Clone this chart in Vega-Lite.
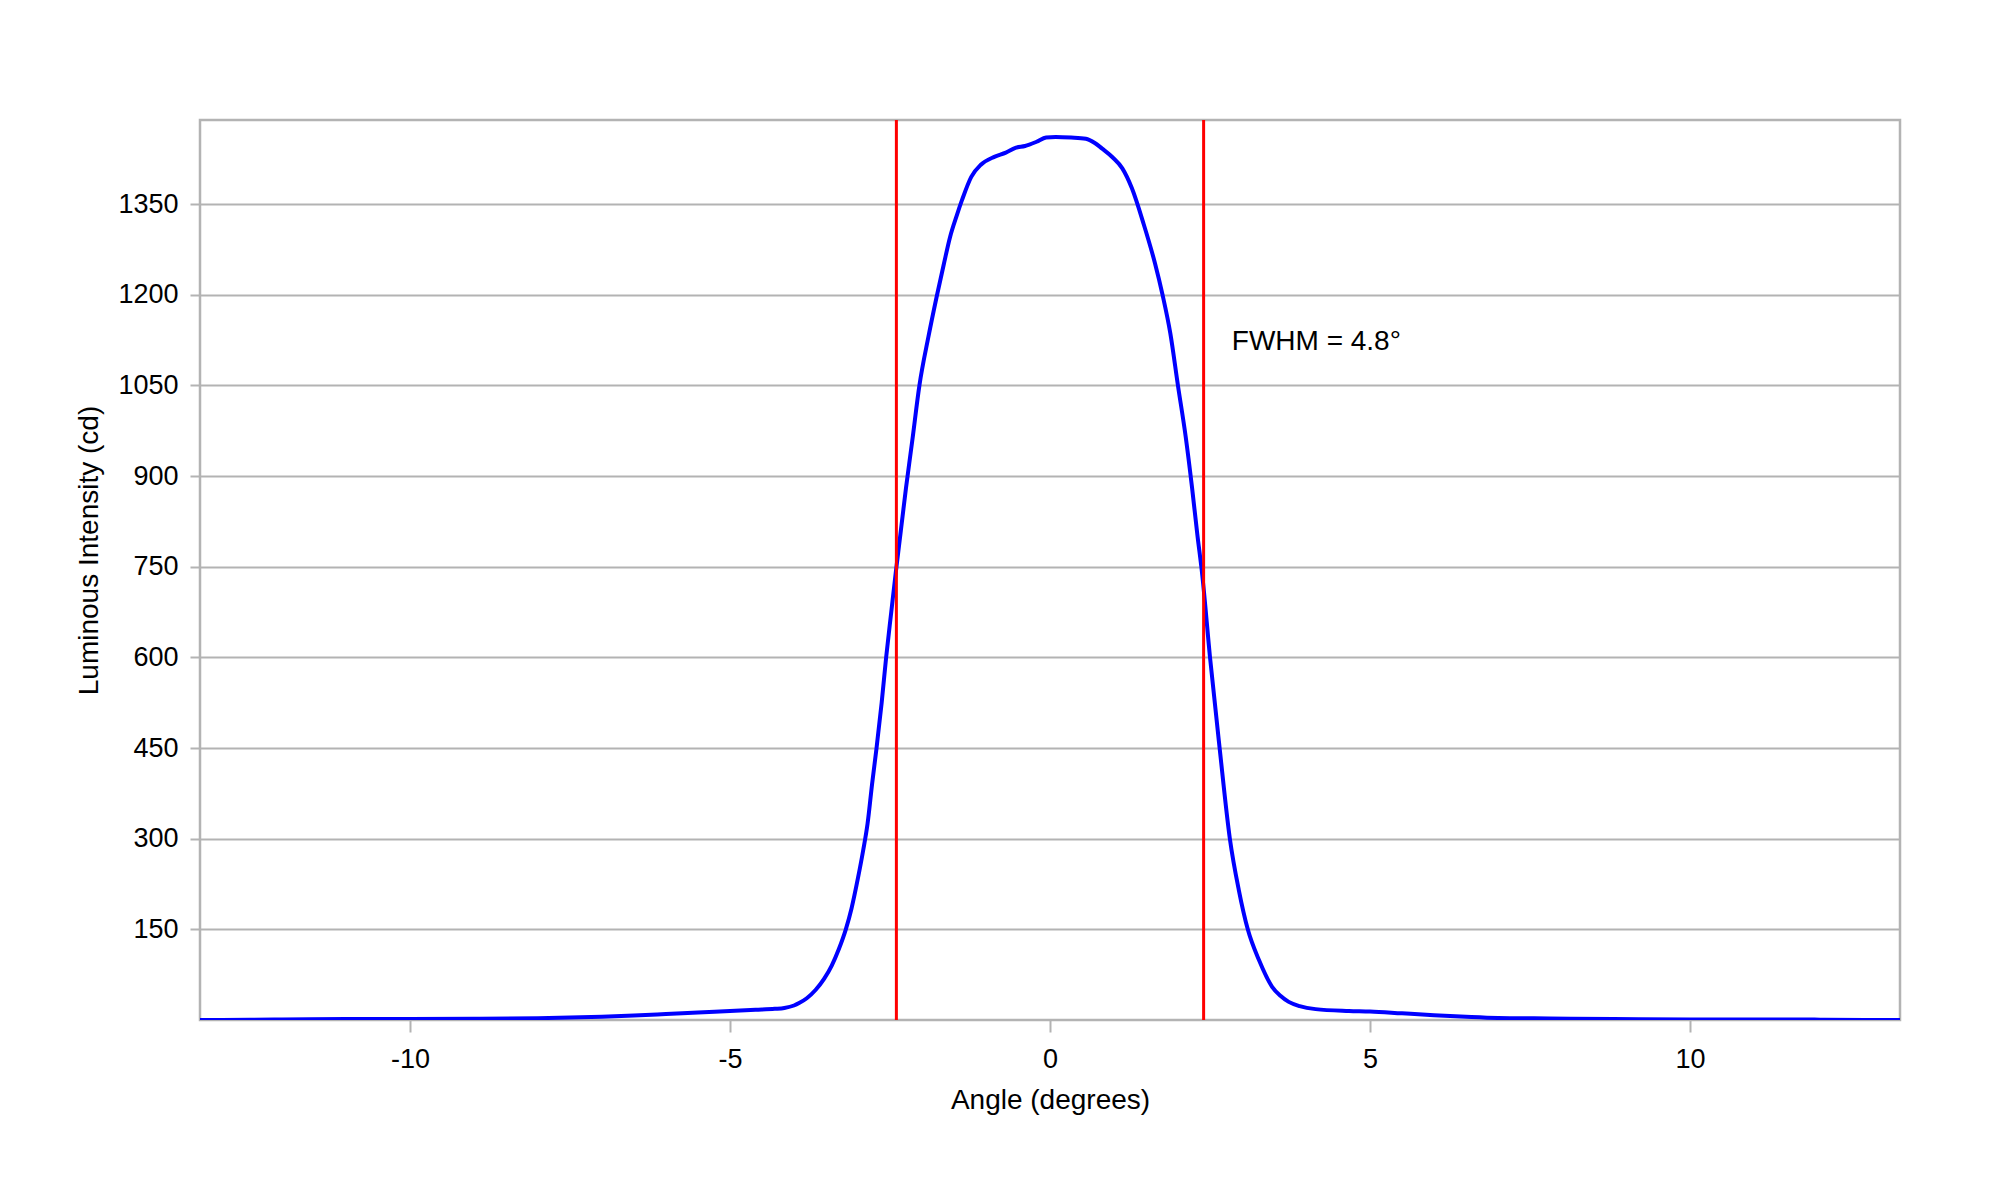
{
  "$schema": "https://vega.github.io/schema/vega-lite/v6.json",
  "autosize": {"type": "none"},
  "padding": {"left": 200, "top": 120, "right": 100, "bottom": 180},
  "width": 1700,
  "height": 900,
  "background": "white",
  "datasets": {
    "profile": [
      {"angle": -13.28, "intensity": 0},
      {"angle": -12.5, "intensity": 0.5},
      {"angle": -12, "intensity": 1},
      {"angle": -11, "intensity": 1.5},
      {"angle": -10, "intensity": 1.5},
      {"angle": -9, "intensity": 2},
      {"angle": -8, "intensity": 3},
      {"angle": -7.5, "intensity": 4},
      {"angle": -7, "intensity": 5.5},
      {"angle": -6.5, "intensity": 7.5},
      {"angle": -6, "intensity": 10},
      {"angle": -5.5, "intensity": 12.5},
      {"angle": -5, "intensity": 15},
      {"angle": -4.6, "intensity": 17},
      {"angle": -4.3, "intensity": 18.5},
      {"angle": -4.15, "intensity": 20},
      {"angle": -4.0, "intensity": 24},
      {"angle": -3.92, "intensity": 28},
      {"angle": -3.8, "intensity": 36},
      {"angle": -3.66, "intensity": 50},
      {"angle": -3.53, "intensity": 68},
      {"angle": -3.41, "intensity": 90},
      {"angle": -3.3, "intensity": 117},
      {"angle": -3.19, "intensity": 150},
      {"angle": -3.1, "intensity": 185},
      {"angle": -3.0, "intensity": 235},
      {"angle": -2.92, "intensity": 280},
      {"angle": -2.85, "intensity": 325},
      {"angle": -2.78, "intensity": 390},
      {"angle": -2.71, "intensity": 450},
      {"angle": -2.63, "intensity": 525},
      {"angle": -2.56, "intensity": 600},
      {"angle": -2.48, "intensity": 675},
      {"angle": -2.41, "intensity": 740},
      {"angle": -2.33, "intensity": 810},
      {"angle": -2.25, "intensity": 880},
      {"angle": -2.15, "intensity": 960},
      {"angle": -2.04, "intensity": 1050},
      {"angle": -1.9, "intensity": 1130},
      {"angle": -1.77, "intensity": 1197},
      {"angle": -1.66, "intensity": 1250},
      {"angle": -1.56, "intensity": 1296},
      {"angle": -1.46, "intensity": 1330},
      {"angle": -1.37, "intensity": 1358},
      {"angle": -1.23, "intensity": 1395},
      {"angle": -1.08, "intensity": 1415},
      {"angle": -0.87, "intensity": 1428},
      {"angle": -0.69, "intensity": 1435},
      {"angle": -0.54, "intensity": 1443},
      {"angle": -0.39, "intensity": 1446},
      {"angle": -0.21, "intensity": 1453},
      {"angle": -0.06, "intensity": 1460},
      {"angle": 0.09, "intensity": 1461},
      {"angle": 0.33, "intensity": 1460},
      {"angle": 0.56, "intensity": 1458},
      {"angle": 0.7, "intensity": 1451},
      {"angle": 0.81, "intensity": 1442},
      {"angle": 0.98, "intensity": 1427},
      {"angle": 1.13, "intensity": 1409},
      {"angle": 1.28, "intensity": 1376},
      {"angle": 1.46, "intensity": 1318},
      {"angle": 1.64, "intensity": 1252},
      {"angle": 1.76, "intensity": 1199},
      {"angle": 1.88, "intensity": 1136},
      {"angle": 2.0, "intensity": 1049},
      {"angle": 2.12, "intensity": 965},
      {"angle": 2.22, "intensity": 880},
      {"angle": 2.3, "intensity": 805},
      {"angle": 2.38, "intensity": 735},
      {"angle": 2.5, "intensity": 600},
      {"angle": 2.65, "intensity": 450},
      {"angle": 2.81, "intensity": 300},
      {"angle": 2.95, "intensity": 215},
      {"angle": 3.09, "intensity": 150},
      {"angle": 3.27, "intensity": 98},
      {"angle": 3.47, "intensity": 55},
      {"angle": 3.6, "intensity": 40},
      {"angle": 3.73, "intensity": 30},
      {"angle": 3.9, "intensity": 23},
      {"angle": 4.15, "intensity": 18},
      {"angle": 4.67, "intensity": 15},
      {"angle": 5.0, "intensity": 14},
      {"angle": 5.5, "intensity": 11},
      {"angle": 6.0, "intensity": 8},
      {"angle": 6.5, "intensity": 5.5},
      {"angle": 7.0, "intensity": 3.5},
      {"angle": 7.8, "intensity": 2.5},
      {"angle": 8.8, "intensity": 1.5},
      {"angle": 10, "intensity": 1},
      {"angle": 11, "intensity": 1},
      {"angle": 11.77, "intensity": 1},
      {"angle": 12.1, "intensity": 0.3},
      {"angle": 13.28, "intensity": 0}
    ],
    "fwhm": [
      {"angle": -2.4},
      {"angle": 2.4}
    ],
    "note": [
      {"angle": 2.84, "intensity": 1108, "label": "FWHM = 4.8°"}
    ]
  },
  "layer": [
    {
      "data": {"name": "profile"},
      "mark": {"type": "line", "color": "#0000ff", "strokeWidth": 4, "interpolate": "monotone", "clip": true},
      "encoding": {
        "x": {
          "field": "angle",
          "type": "quantitative",
          "title": "Angle (degrees)",
          "scale": {"domain": [-13.28, 13.28], "nice": false, "zero": false},
          "axis": {
            "values": [-10, -5, 0, 5, 10],
            "labelExpr": "'' + datum.value",
            "grid": false,
            "domain": false,
            "tickSize": 12,
            "labelPadding": 14,
            "titlePadding": 14
          }
        },
        "y": {
          "field": "intensity",
          "type": "quantitative",
          "title": "Luminous Intensity (cd)",
          "scale": {"domain": [0, 1489], "nice": false},
          "axis": {
            "values": [150, 300, 450, 600, 750, 900, 1050, 1200, 1350],
            "labelExpr": "'' + datum.value",
            "grid": true,
            "domain": false,
            "tickSize": 10,
            "labelPadding": 12,
            "titlePadding": 14,
            "titleY": 430
          }
        }
      }
    },
    {
      "data": {"name": "fwhm"},
      "mark": {"type": "rule", "color": "#ff0000", "strokeWidth": 3},
      "encoding": {
        "x": {"field": "angle", "type": "quantitative"}
      }
    },
    {
      "data": {"name": "note"},
      "mark": {
        "type": "text",
        "align": "left",
        "baseline": "alphabetic",
        "font": "Liberation Sans",
        "fontSize": 28,
        "color": "#000000"
      },
      "encoding": {
        "x": {"field": "angle", "type": "quantitative"},
        "y": {"field": "intensity", "type": "quantitative"},
        "text": {"field": "label"}
      }
    }
  ],
  "config": {
    "font": "Liberation Sans",
    "view": {"stroke": "#b3b3b3", "strokeWidth": 2.5},
    "axis": {
      "labelFont": "Liberation Sans",
      "labelFontSize": 27,
      "labelColor": "#000000",
      "titleFont": "Liberation Sans",
      "titleFontSize": 28,
      "titleFontWeight": "normal",
      "titleColor": "#000000",
      "tickColor": "#b3b3b3",
      "tickWidth": 2,
      "gridColor": "#b3b3b3",
      "gridWidth": 2,
      "gridOpacity": 1
    }
  }
}
